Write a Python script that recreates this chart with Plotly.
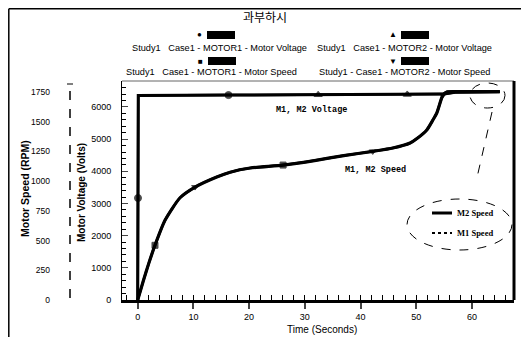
import plotly.graph_objects as go

# ---------------- data ----------------
time_voltage = [0, 0.05, 0.1, 16.3, 32.4, 48.4, 55.0, 57.0, 65.0]
m1_voltage = [0, 3170, 6360, 6370, 6380, 6390, 6400, 6460, 6470]
m2_voltage = [0, 3170, 6360, 6370, 6380, 6390, 6400, 6460, 6470]

time_speed = [0, 1, 2, 3.1, 4.9, 7.6, 10.3, 14.2, 16.6, 20.2, 26.1, 32, 37, 42.2,
              45.8, 48.9, 50.2, 51.9, 53.0, 53.7, 54.8, 55.5, 58, 65]
m1_speed = [0, 160, 310, 460, 670, 860, 950, 1035, 1075, 1110, 1135, 1175, 1215, 1250,
            1278, 1320, 1360, 1430, 1514, 1573, 1724, 1750, 1752, 1752]
m2_speed = list(m1_speed)

m1_voltage_marks = [1, 3]      # indices carrying markers
m2_voltage_marks = [4, 5]
m1_speed_marks = [3, 10]
m2_speed_marks = [6, 13, 20]

x_ticks = [0, 10, 20, 30, 40, 50, 60]
voltage_ticks = [0, 1000, 2000, 3000, 4000, 5000, 6000]
speed_ticks = [0, 250, 500, 750, 1000, 1250, 1500, 1750]

title_text = "과부하시"
legend_labels = ["Study1   Case1 - MOTOR1 - Motor Voltage",
                 "Study1   Case1 - MOTOR2 - Motor Voltage",
                 "Study1   Case1 - MOTOR1 - Motor Speed",
                 "Study1 - Case1 - MOTOR2 - Motor Speed"]

# ---------------- layout helpers ----------------
# the page body adds an 8px offset; all positions below are given in
# reference-picture pixels and converted.
OFF = 8
W, H = 529 - OFF, 337 - OFF
PL, PR, PT, PB = 122, 514, 81, 300   # plot area in reference pixels
ML, MR, MT, MB = 0, W - (PR - OFF), PT - OFF, H - (PB - OFF)
PW = W - ML - MR
PH = H - MT - MB


def px(x):
    return (x - OFF - ML) / PW


def py(y):
    return (PB - y) / PH


def sizes(n, idx, s):
    return [s if i in idx else 0 for i in range(n)]


mline = dict(color="black", width=1)
fig = go.Figure()

fig.add_trace(go.Scatter(x=time_voltage, y=m1_voltage, mode="lines+markers",
                         line=dict(color="black", width=3),
                         marker=dict(symbol="circle", color="black", line=mline,
                                     size=sizes(len(time_voltage), m1_voltage_marks, 7)),
                         showlegend=False))
fig.add_trace(go.Scatter(x=time_voltage, y=m2_voltage, mode="lines+markers",
                         line=dict(color="black", width=2.5),
                         marker=dict(symbol="triangle-up", color="black", line=mline,
                                     size=sizes(len(time_voltage), m2_voltage_marks, 7)),
                         showlegend=False))
fig.add_trace(go.Scatter(x=time_speed, y=m1_speed, mode="lines+markers", yaxis="y2",
                         line=dict(color="black", width=3.2, shape="spline", smoothing=0.6),
                         marker=dict(symbol="square", color="black", line=mline,
                                     size=sizes(len(time_speed), m1_speed_marks, 6)),
                         showlegend=False))
fig.add_trace(go.Scatter(x=time_speed, y=m2_speed, mode="lines+markers", yaxis="y2",
                         line=dict(color="black", width=2.5, shape="spline", smoothing=0.6),
                         marker=dict(symbol="triangle-down", color="black", line=mline,
                                     size=sizes(len(time_speed), m2_speed_marks, 6)),
                         showlegend=False))

tickfont = dict(family="Liberation Sans", size=9, color="black")

fig.update_layout(
    width=W, height=H,
    margin=dict(l=ML, r=MR, t=MT, b=MB),
    paper_bgcolor="white", plot_bgcolor="white",
    font=dict(family="Liberation Sans", color="black"),
    xaxis=dict(domain=[px(PL), 1], range=[-2.82, 67.56],
               tickvals=x_ticks, ticks="outside", ticklen=6, tickwidth=2,
               showline=True, linecolor="black", linewidth=3,
               showgrid=False, zeroline=False, tickfont=tickfont,
               minor=dict(dtick=2, ticks="inside", ticklen=5, tickcolor="black", tickwidth=1)),
    yaxis=dict(range=[0, 6808], tickvals=voltage_ticks, ticks="inside", ticklen=6,
               showline=True, linecolor="black", linewidth=1,
               showgrid=False, zeroline=False, tickfont=tickfont, ticklabelstandoff=8,
               minor=dict(dtick=200, ticks="inside", ticklen=4, tickcolor="black")),
    yaxis2=dict(range=[0, 1842], tickvals=speed_ticks, overlaying="y", anchor="free",
                position=px(70), side="left", ticks="", showline=False,
                showgrid=False, zeroline=False, ticklabelstandoff=20,
                tickfont=dict(family="Liberation Sans", size=8.5, color="black")),
)

# frame: thin top, thick right
fig.add_shape(type="line", xref="x domain", yref="y domain", x0=0, x1=1, y0=1, y1=1,
              line=dict(color="#666", width=1))
fig.add_shape(type="line", xref="x domain", yref="y domain", x0=1, x1=1, y0=0, y1=1,
              line=dict(color="black", width=3))
# dashed speed axis line
fig.add_shape(type="line", xref="paper", yref="paper", x0=px(70), x1=px(70),
              y0=py(298), y1=py(84), line=dict(color="black", width=1.5, dash="dash"))
fig.add_shape(type="line", xref="paper", yref="paper", x0=px(67), x1=px(73),
              y0=py(84), y1=py(84), line=dict(color="black", width=1))
# page border (as close to the edge as the page allows)
fig.add_shape(type="line", xref="paper", yref="paper", x0=px(8.8), x1=px(529),
              y0=py(8.8), y1=py(8.8), line=dict(color="black", width=1.5))
fig.add_shape(type="line", xref="paper", yref="paper", x0=px(8.8), x1=px(8.8),
              y0=py(8.8), y1=py(337), line=dict(color="black", width=1.5))

# ellipses and pointer
fig.add_shape(type="circle", xref="paper", yref="paper", x0=px(470), x1=px(505),
              y0=py(108), y1=py(83), line=dict(color="black", width=1, dash="dash"))
fig.add_shape(type="circle", xref="paper", yref="paper", x0=px(407), x1=px(512),
              y0=py(250), y1=py(199), line=dict(color="black", width=1, dash="dash"))
fig.add_shape(type="line", xref="paper", yref="paper", x0=px(492), x1=px(476),
              y0=py(112), y1=py(182), line=dict(color="black", width=1, dash="dash"))
# inner legend bars
fig.add_shape(type="line", xref="paper", yref="paper", x0=px(432), x1=px(452),
              y0=py(213), y1=py(213), line=dict(color="black", width=3))
fig.add_shape(type="line", xref="paper", yref="paper", x0=px(432), x1=px(452),
              y0=py(233), y1=py(233), line=dict(color="black", width=2, dash="dot"))


def ann(text, x, y, size=9, family="Liberation Sans", xanchor="center", angle=0, bold=False):
    if bold:
        text = "<b>" + text + "</b>"
    fig.add_annotation(text=text, x=px(x), y=py(y), xref="paper", yref="paper",
                       showarrow=False, xanchor=xanchor, yanchor="middle", textangle=angle,
                       font=dict(size=size, family=family, color="black"))


ann(title_text, 265, 16, size=12, family="Noto Sans CJK KR")

# top legend
ann(legend_labels[0], 130, 48, size=9.2, xanchor="left")
ann(legend_labels[1], 315, 48, size=9.2, xanchor="left")
ann(legend_labels[2], 124, 72, size=9.2, xanchor="left")
ann(legend_labels[3], 317, 72, size=9.2, xanchor="left")
legend_syms = [("●", 199, 35), ("▲", 393, 35), ("■", 200, 61), ("▼", 393, 61)]
for sym, sx, sy in legend_syms:
    ann(sym, sx, sy, size=8)
    fig.add_shape(type="rect", xref="paper", yref="paper", x0=px(sx + 8), x1=px(sx + 36),
                  y0=py(sy + 4), y1=py(sy - 4), line=dict(width=0), fillcolor="black")

# axis titles
ann("Motor Speed (RPM)", 25, 189, size=10.5, angle=-90, bold=True)
ann("Motor Voltage (Volts)", 81, 193, size=10, angle=-90, bold=True)
ann("Time (Seconds)", 322, 329, size=10)

# curve labels
ann("M1, M2 Voltage", 311, 110, size=8.5, family="Liberation Mono", bold=True)
ann("M1, M2 Speed", 375, 170, size=8.5, family="Liberation Mono", bold=True)
ann("M2 Speed", 455, 213, size=8.5, family="Liberation Serif", xanchor="left", bold=True)
ann("M1 Speed", 455, 233, size=8.5, family="Liberation Serif", xanchor="left", bold=True)

fig.write_html("out.html")
